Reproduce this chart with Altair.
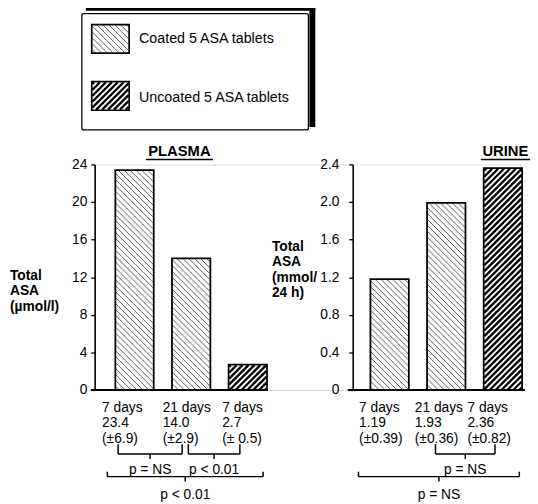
import altair as alt
import numpy as np
import pandas as pd

# ------------------------------------------------------------------ data
plasma_days = ["7 days", "21 days", "7 days"]
plasma_values = [23.4, 14.0, 2.7]
plasma_means = ["23.4", "14.0", "2.7"]
plasma_sd = ["(±6.9)", "(±2.9)", "(± 0.5)"]

urine_days = ["7 days", "21 days", "7 days"]
urine_values = [1.18, 1.99, 2.36]
urine_means = ["1.19", "1.93", "2.36"]
urine_sd = ["(±0.39)", "(±0.36)", "(±0.82)"]

tablet_type = ["Coated", "Coated", "Uncoated"]
legend_types = ["Coated", "Uncoated"]
legend_labels = ["Coated 5 ASA tablets", "Uncoated 5 ASA tablets"]

plasma_ticks = [0, 4, 8, 12, 16, 20, 24]
urine_ticks = [0, 0.4, 0.8, 1.2, 1.6, 2.0, 2.4]

plasma_tests = [(0, 1, "p = NS"), (1, 2, "p < 0.01"), (0, 2, "p < 0.01")]
urine_tests = [(1, 2, "p = NS"), (0, 2, "p = NS")]

panel_titles = ["PLASMA", "URINE"]
y_titles = ["Total\nASA\n(µmol/l)", "Total\nASA\n(mmol/\n24 h)"]

# ------------------------------------------------------------------ layout
W, H = 432, 229          # shared plot area (both panels)
STEP = 57.5              # px per bar slot
U0 = -0.704              # slot coordinate at the left axis
U1 = U0 + W / STEP
HALF = 0.339             # half bar width in slots
PANEL_GAP_PX = 259       # horizontal shift of the urine bars
AXIS_R_PX = 262          # position of the urine axis
FONT = "Liberation Sans"

TEXT_OFFS = {"L": [-0.574, -0.504, -0.452], "R": [-0.54, -0.556, -0.626]}
BRACKET_OFFS = {
    ("L", 0, 1): (-0.29, -0.16),
    ("L", 1, 2): (-0.05, -0.14),
    ("L", 0, 2): (-0.48, 0.27),
    ("R", 1, 2): (-0.19, -0.14),
    ("R", 0, 2): (-0.55, 0.29),
}
LEVELS = {
    1: dict(h=294, top=284, tick=299, text=314),
    2: dict(h=317, top=312, tick=322, text=340),
}
HATCH = {"Coated": ("back", 6.0), "Uncoated": ("fwd", 6.0)}
LEG_DY = -2              # vertical nudge of the legend box


def u_of(px):
    return px / STEP + U0


def px_of(u):
    return (u - U0) * STEP


def py_of(v, vmax):
    return H - v / vmax * H


def v_of(py, vmax):
    return (H - py) / H * vmax


def hatch_segments(x0, x1, y0, y1, step, kind):
    segs = []
    if kind == "back":  # '\'  : y = x + c
        lo, hi = y0 - x1, y1 - x0
        for c in np.arange(np.ceil(lo / step) * step, hi, step):
            xa, xb = max(x0, y0 - c), min(x1, y1 - c)
            if xb - xa > 0.8:
                segs.append((xa, xa + c, xb, xb + c))
    else:  # '/' : y = -x + c
        lo, hi = x0 + y0, x1 + y1
        for c in np.arange(np.ceil(lo / step) * step, hi, step):
            xa, xb = max(x0, c - y1), min(x1, c - y0)
            if xb - xa > 0.8:
                segs.append((xa, c - xa, xb, c - xb))
    return segs


def seg_rows(segs, vmax, kind):
    return [
        {"x": u_of(a), "y": v_of(b, vmax), "x2": u_of(c), "y2": v_of(d, vmax), "type": kind}
        for a, b, c, d in segs
    ]


def one_row():
    return pd.DataFrame({"k": [0]})


XS = alt.Scale(domain=[U0, U1], nice=False, zero=False)


def X(field):
    return alt.X(field, scale=XS, axis=None)


def build_panel(side, values, vmax, ticks, days, means, sds, tests, shift,
                axis_offset, label_pad, label_expr, title, title_x, tw, ytitle, ytitle_x,
                ytitle_y, ytitle_lh, base_x, legend=False):
    ys = alt.Scale(domain=[0, vmax], nice=False, zero=False)

    def Y(field, axis=None):
        return alt.Y(field, scale=ys, axis=axis)

    centers = [i + shift for i in range(len(values))]

    bars = pd.DataFrame({
        "x": [c - HALF for c in centers],
        "x2": [c + HALF for c in centers],
        "v": values,
        "zero": [0.0] * len(values),
        "type": tablet_type,
        "label": [f"{d}\n{m}\n{s}" for d, m, s in zip(days, means, sds)],
        "tx": [c + o for c, o in zip(centers, TEXT_OFFS[side])],
    })

    hrows = []
    for _, r in bars.iterrows():
        kind, step = HATCH[r["type"]]
        segs = hatch_segments(px_of(r["x"]) + 0.6, px_of(r["x2"]) - 0.6,
                              py_of(r["v"], vmax) + 0.6, H, step, kind)
        hrows += seg_rows(segs, vmax, r["type"])

    layers = []

    if legend:
        d = LEG_DY
        layers.append(alt.Chart(one_row()).mark_rect(color="black").encode(
            x=alt.value(-9), x2=alt.value(224), y=alt.value(-158 + d), y2=alt.value(-154 + d)))
        layers.append(alt.Chart(one_row()).mark_rect(color="black").encode(
            x=alt.value(218), x2=alt.value(224), y=alt.value(-158 + d), y2=alt.value(-36 + d)))
        layers.append(alt.Chart(one_row()).mark_rect(
            fill="white", stroke="black", strokeWidth=1.3, cornerRadius=2).encode(
            x=alt.value(-13), x2=alt.value(217), y=alt.value(-151 + d), y2=alt.value(-33 + d)))
        sw_rows = []
        for t, (top, bot) in zip(legend_types, [(-140 + d, -111 + d), (-82 + d, -53 + d)]):
            kind, step = HATCH[t]
            hrows += seg_rows(hatch_segments(-2.4, 34.4, top + 0.6, bot - 0.6, step, kind), vmax, t)
            sw_rows.append({"x": u_of(-3), "x2": u_of(35), "v": v_of(top, vmax),
                            "zero": v_of(bot, vmax)})
        sw = pd.DataFrame(sw_rows)
        leg_text = pd.DataFrame({"label": legend_labels,
                                 "ty": [v_of(-121 + d, vmax), v_of(-61 + d, vmax)],
                                 "tx": [u_of(45), u_of(45)]})

    hatch = pd.DataFrame(hrows)

    axis = alt.Axis(values=ticks, title=None, grid=False, orient="left", offset=axis_offset,
                    domainColor="black", domainWidth=1.6, tickColor="black", tickWidth=1.3,
                    tickSize=4, labelFont=FONT, labelFontSize=14, labelColor="black",
                    labelPadding=label_pad, labelOverlap=False, labelExpr=label_expr)

    layers.append(alt.Chart(bars).mark_rect(fill="white").encode(
        x=X("x:Q"), x2="x2:Q", y=Y("v:Q", axis), y2="zero:Q"))

    for t, color, width in [("Coated", "#5a5a5a", 1.0), ("Uncoated", "black", 2.4)]:
        sub = hatch[hatch["type"] == t]
        layers.append(alt.Chart(sub).mark_rule(color=color, strokeWidth=width, strokeCap="butt").encode(
            x=X("x:Q"), x2="x2:Q", y=Y("y:Q"), y2="y2:Q"))

    layers.append(alt.Chart(bars).mark_rect(fillOpacity=0, stroke="black", strokeWidth=1.8).encode(
        x=X("x:Q"), x2="x2:Q", y=Y("v:Q"), y2="zero:Q"))

    if legend:
        layers.append(alt.Chart(sw).mark_rect(fillOpacity=0, stroke="black", strokeWidth=1.7).encode(
            x=X("x:Q"), x2="x2:Q", y=Y("v:Q"), y2="zero:Q"))
        layers.append(alt.Chart(leg_text).mark_text(
            align="left", baseline="alphabetic", font=FONT, fontSize=14.5, color="black").encode(
            x=X("tx:Q"), y=Y("ty:Q"), text="label:N"))

    layers.append(alt.Chart(one_row()).mark_rule(color="black", strokeWidth=2).encode(
        x=alt.value(base_x[0]), x2=alt.value(base_x[1]), y=alt.value(H)))

    layers.append(alt.Chart(bars).mark_text(
        align="left", baseline="alphabetic", font=FONT, fontSize=14, lineHeight=16,
        lineBreak="\n", color="black").encode(
        x=X("tx:Q"), y=alt.value(251), text="label:N"))

    rules, ptxt = [], []
    for a, b, lab in tests:
        level = 1 if b - a == 1 else 2
        lv = LEVELS[level]
        oa, ob = BRACKET_OFFS[(side, a, b)]
        xa, xb = centers[a] + oa, centers[b] + ob
        xm = (xa + xb) / 2
        for r in [(xa, xb, lv["h"], lv["h"]), (xa, xa, lv["top"], lv["h"]),
                  (xb, xb, lv["top"], lv["h"]), (xm, xm, lv["h"], lv["tick"])]:
            rules.append({"x": r[0], "x2": r[1], "y": v_of(r[2], vmax), "y2": v_of(r[3], vmax)})
        ptxt.append({"x": xm, "y": v_of(lv["text"], vmax), "label": lab})
    layers.append(alt.Chart(pd.DataFrame(rules)).mark_rule(color="black", strokeWidth=1.5).encode(
        x=X("x:Q"), x2="x2:Q", y=Y("y:Q"), y2="y2:Q"))
    layers.append(alt.Chart(pd.DataFrame(ptxt)).mark_text(
        align="center", baseline="alphabetic", font=FONT, fontSize=14, color="black").encode(
        x=X("x:Q"), y=Y("y:Q"), text="label:N"))

    layers.append(alt.Chart(one_row()).mark_text(
        align="center", baseline="alphabetic", font=FONT, fontSize=15, fontWeight="bold",
        color="black").encode(x=alt.value(title_x), y=alt.value(-9), text=alt.value(title)))
    layers.append(alt.Chart(one_row()).mark_rule(color="black", strokeWidth=1.3).encode(
        x=alt.value(title_x - tw / 2), x2=alt.value(title_x + tw / 2), y=alt.value(-5)))
    layers.append(alt.Chart(one_row()).mark_text(
        align="left", baseline="alphabetic", font=FONT, fontSize=14, fontWeight="bold",
        lineHeight=ytitle_lh, lineBreak="\n", color="black").encode(
        x=alt.value(ytitle_x), y=alt.value(ytitle_y), text=alt.value(ytitle)))

    return layers


left_layers = build_panel("L", plasma_values, 24, plasma_ticks, plasma_days, plasma_means, plasma_sd,
                          plasma_tests, 0.0, 0, 4, "datum.label", panel_titles[0], 86, 68,
                          y_titles[0], -86, 117, 16, (-4, 176), legend=True)
right_layers = build_panel("R", urine_values, 2.4, urine_ticks, urine_days, urine_means, urine_sd,
                           urine_tests, PANEL_GAP_PX / STEP, -AXIS_R_PX, 10,
                           "datum.value == 0 ? '0' : format(datum.value, '.1f')", panel_titles[1],
                           417, 50, y_titles[1], 180, 88, 15.5, (257, 437))

chart = alt.layer(*left_layers, *right_layers).resolve_scale(y="independent").properties(
    width=W, height=H,
    autosize=alt.AutoSizeParams(type="none"),
    padding={"left": 88, "top": 155, "right": 10, "bottom": 114},
).configure_view(stroke=None).configure(background="white")

chart.save("out.html", embed_options={"renderer": "svg", "actions": False})
